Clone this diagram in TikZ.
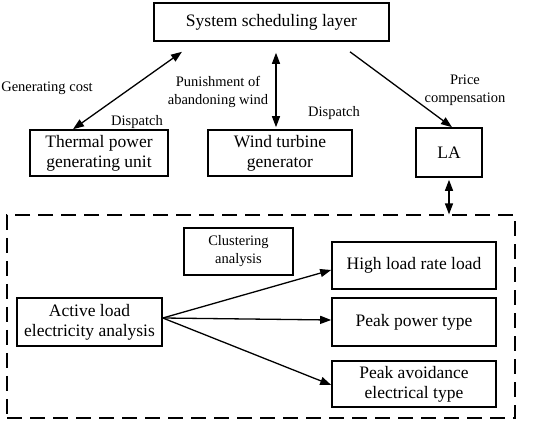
\documentclass[tikz,border=0pt]{standalone}
\usepackage{fontspec}
\setmainfont{Liberation Serif}
\usetikzlibrary{arrows.meta}

\begin{document}
\begin{tikzpicture}[x=1pt, y=-1pt, line width=1.3pt,
        >={Triangle[length=11pt,width=8pt]},
        every node/.append style={font=\fontsize{17.5}{20}\selectfont}]
      \tikzstyle{block} = [draw, line width=1.6pt, align=center, inner sep=0pt]
      \tikzstyle{tag} = [font=\fontsize{14.5}{18}\selectfont, align=center, inner sep=0pt]
      \useasboundingbox (0,0) rectangle (533,427);
      \node (scheduling) [block, minimum width=235, minimum height=38] at (271.5,22) {System scheduling layer};
      \node (thermal) [block, minimum width=138, minimum height=46] at (99,153) {Thermal power\\generating unit};
      \node (wind) [block, minimum width=144, minimum height=46] at (280,153) {Wind turbine\\generator};
      \node (LA) [block, minimum width=66, minimum height=49] at (449,152.5) {LA};
      \node (region) [draw, dashed, line width=1.2pt, dash pattern=on 15pt off 8pt, minimum width=508, minimum height=203] at (261,316.5) {};
      \node (clustering) [block, tag, minimum width=109, minimum height=47] at (238.5,251.5) {Clustering\\analysis};
      \node (active) [block, minimum width=145, minimum height=48] at (89.5,322) {Active load\\electricity analysis};
      \node (highload) [block, minimum width=164, minimum height=47] at (414,265.5) {High load rate load};
      \node (peakpower) [block, minimum width=164, minimum height=48] at (414,322) {Peak power type};
      \node (peakavoid) [block, minimum width=164, minimum height=46] at (414,384) {Peak avoidance\\electrical type};
      \node (cost) [tag] at (47,88) {Generating cost};
      \node (dispatchA) [tag] at (137,122) {Dispatch};
      \node (punish) [tag] at (218,92) {Punishment of\\abandoning wind};
      \node (dispatchB) [tag] at (334,113) {Dispatch};
      \node (price) [tag] at (465,90) {Price\\compensation};
      \draw[<->] ([xshift=-26pt]thermal.north) -- ([xshift=-89.5pt,yshift=-10pt]scheduling.south);
      \draw[<->] ([xshift=-4pt,yshift=2pt]wind.north) -- ([xshift=4.5pt,yshift=-11pt]scheduling.south);
      \draw[->] ([xshift=78.5pt,yshift=-10pt]scheduling.south) -- ([xshift=3pt]LA.north);
      \draw[<->] ([yshift=-2pt]LA.south) -- (LA.south |- region.north);
      \draw[->] ([yshift=4pt]active.east) -- ([yshift=-4.5pt]highload.west);
      \draw[->] ([yshift=4pt]active.east) -- ([yshift=2pt]peakpower.west);
      \draw[->] ([yshift=4pt]active.east) -- ([yshift=-1pt]peakavoid.west);
    \end{tikzpicture}
\end{document}
